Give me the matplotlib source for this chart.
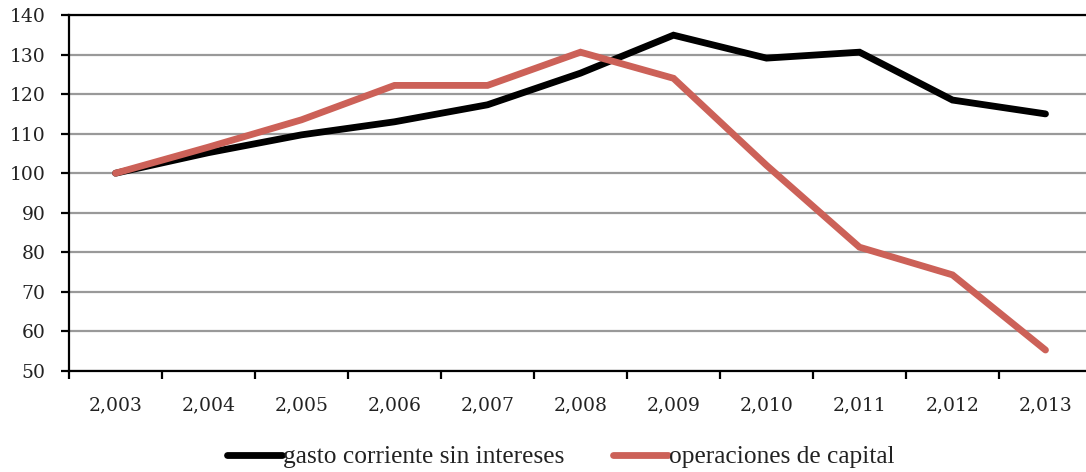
import matplotlib
matplotlib.use("Agg")
import matplotlib.pyplot as plt
from matplotlib.lines import Line2D

years = ["2,003", "2,004", "2,005", "2,006", "2,007", "2,008", "2,009", "2,010", "2,011", "2,012", "2,013"]
gasto = [100, 105.2, 109.7, 113.0, 117.3, 125.3, 134.9, 129.1, 130.6, 118.5, 115.0]
capital = [100, 106.6, 113.5, 122.2, 122.2, 130.6, 124.0, 102.0, 81.3, 74.3, 55.3]
series_names = ["gasto corriente sin intereses", "operaciones de capital"]
colors = ["#000000", "#cc6158"]

plt.rcParams['font.family'] = ['DejaVu Serif', 'Liberation Serif']

fig = plt.figure(figsize=(10.86, 4.72), dpi=100)
ax = fig.add_axes([69/1086, 1-371/472, 1023/1086, 356/472])

x = list(range(len(years)))
for vals, c, name in zip([gasto, capital], colors, series_names):
    ax.plot(x, vals, color=c, lw=4.9, solid_capstyle='round', solid_joinstyle='miter', label=name, zorder=3)

ax.set_xlim(-0.5, len(years) - 0.5)
ax.set_ylim(50, 140)
ax.set_yticks(range(50, 141, 10))
ax.yaxis.grid(True, color='#999999', lw=1.6)
ax.set_axisbelow(True)

ax.set_xticks([k - 0.5 for k in range(len(years) + 1)])
ax.set_xticklabels([])
ax.set_xticks(x, minor=True)
ax.set_xticklabels(years, minor=True)
ax.tick_params(axis='x', which='major', length=6, width=1.6, direction='out', color='black')
ax.tick_params(axis='x', which='minor', length=0, pad=18, labelsize=13.5, labelcolor='#222222')
ax.tick_params(axis='y', length=6, width=1.6, direction='out', labelsize=13.5, labelcolor='#222222', pad=11)

for s in ['left', 'bottom', 'top']:
    ax.spines[s].set_linewidth(1.6)
    ax.spines[s].set_color('black')
ax.spines['right'].set_visible(False)

handles = [Line2D([0], [0], color=c, lw=4.9, solid_capstyle='round') for c in colors]
fig.legend(handles, series_names, loc='center', bbox_to_anchor=(561/1086, 1-457/472),
           ncol=2, frameon=False, handlelength=2.15, handletextpad=0.05,
           columnspacing=1.9, labelcolor='#222222',
           prop={'family': ['Liberation Serif'], 'size': 18.3})

fig.savefig("out.png", dpi=100)
